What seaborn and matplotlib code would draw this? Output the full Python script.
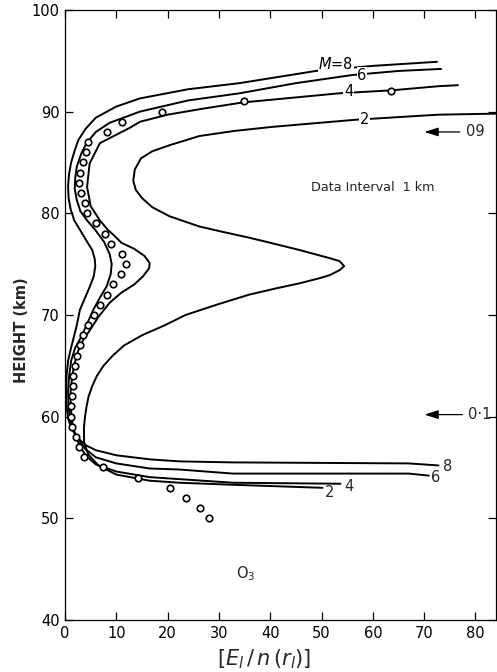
import matplotlib
matplotlib.use("Agg")
import matplotlib.pyplot as plt
import seaborn as sns
import numpy as np

# ---- data ----
m8_x = [72.8, 67.0, 32.7, 22.3, 16.5, 10.0, 6.0, 4.0, 2.5, 1.3, 0.6, 0.3, 0.2, 0.3, 0.6, 1.1, 1.6, 2.3, 2.9, 4.0, 4.85, 5.6, 5.9, 5.8, 5.3, 4.3, 3.0, 1.8, 1.1, 0.7, 0.6, 0.8, 1.2, 1.9, 2.6, 4.0, 6.0, 10.0, 14.6, 24.0, 34.0, 48.9, 60.0, 72.5]
m8_y = [55.2, 55.4, 55.5, 55.6, 55.8, 56.2, 56.7, 57.2, 57.9, 58.8, 59.8, 61.0, 62.5, 64.0, 65.5, 66.6, 67.6, 69.0, 70.5, 71.8, 72.8, 73.8, 74.8, 75.5, 76.4, 77.2, 78.3, 79.3, 80.4, 81.5, 82.7, 83.9, 85.0, 86.2, 87.2, 88.3, 89.4, 90.5, 91.3, 92.2, 92.8, 94.0, 94.5, 94.9]

m6_x = [70.9, 67.0, 32.7, 22.3, 16.5, 10.0, 6.0, 4.0, 2.8, 1.7, 1.0, 0.7, 0.6, 0.8, 1.2, 2.0, 2.9, 4.2, 5.5, 6.9, 8.1, 8.9, 9.1, 8.7, 7.6, 6.0, 4.3, 3.0, 2.3, 1.9, 2.0, 2.3, 3.2, 4.2, 6.0, 8.7, 14.6, 24.0, 34.0, 45.0, 56.0, 65.0, 73.3]
m6_y = [54.2, 54.4, 54.4, 54.8, 54.9, 55.4, 56.0, 56.8, 57.6, 58.6, 59.7, 61.0, 62.5, 64.0, 65.5, 66.8, 67.6, 69.0, 70.5, 71.8, 72.8, 74.0, 75.0, 76.0, 77.2, 78.3, 79.3, 80.2, 81.3, 82.4, 83.5, 84.6, 85.9, 86.9, 88.0, 88.9, 90.0, 91.1, 91.8, 92.8, 93.6, 94.0, 94.2]

m4_x = [53.7, 32.7, 16.5, 10.0, 6.0, 4.0, 2.8, 1.9, 1.4, 1.1, 1.1, 1.4, 1.9, 2.6, 3.6, 4.85, 6.5, 8.7, 11.0, 13.5, 15.2, 16.4, 16.5, 15.5, 13.5, 11.0, 9.6, 8.3, 6.8, 5.0, 4.3, 4.8, 6.8, 12.6, 14.6, 20.0, 27.0, 34.6, 53.4, 63.8, 72.8, 76.6]
m4_y = [53.4, 53.5, 54.05, 54.6, 55.3, 56.2, 57.2, 58.3, 59.5, 61.0, 62.5, 64.0, 65.3, 66.5, 67.6, 68.5, 69.8, 71.2, 72.2, 73.0, 73.8, 74.6, 75.1, 75.8, 76.5, 77.1, 77.8, 78.4, 79.3, 80.7, 82.6, 84.9, 86.9, 88.4, 89.0, 89.7, 90.3, 90.9, 91.8, 92.1, 92.5, 92.6]

m2_x = [50.2, 32.7, 22.3, 16.5, 10.0, 6.5, 4.5, 3.7, 3.7, 3.9, 4.2, 4.6, 5.3, 6.2, 7.5, 9.3, 11.5, 15.0, 19.5, 23.5, 29.5, 35.9, 41.0, 45.6, 49.5, 51.5, 53.5, 54.4, 53.5, 51.5, 45.6, 40.0, 35.9, 30.5, 26.2, 20.4, 17.0, 15.0, 13.8, 13.3, 13.6, 14.8, 17.0, 20.4, 26.2, 33.0, 40.4, 56.6, 72.8, 84.0]
m2_y = [53.0, 53.3, 53.5, 53.7, 54.3, 55.2, 56.3, 57.5, 59.0, 60.0, 61.0, 62.0, 63.0, 64.0, 65.0, 66.0, 67.0, 68.0, 69.0, 70.0, 71.0, 72.0, 72.6, 73.1, 73.6, 73.9, 74.4, 74.8, 75.3, 75.6, 76.4, 77.1, 77.6, 78.2, 78.7, 79.7, 80.6, 81.5, 82.3, 83.2, 84.3, 85.4, 86.1, 86.7, 87.6, 88.1, 88.5, 89.2, 89.7, 89.8]

obs_y = [50, 51, 52, 53, 54, 55, 56, 57, 58, 59, 60, 61, 62, 63, 64, 65, 66, 67, 68, 69, 70, 71,
         72, 73, 74, 75, 76, 77, 78, 79, 80, 81, 82, 83, 84, 85, 86, 87, 88, 89, 90, 91, 92]
obs_x = [28.0, 26.3, 23.5, 20.4, 14.3, 7.4, 3.7, 2.8, 2.1, 1.3, 1.2, 1.2, 1.3, 1.5, 1.6, 1.9, 2.3, 2.9, 3.5, 4.4, 5.7, 6.8,
         8.2, 9.3, 10.9, 11.8, 11.2, 8.9, 7.8, 6.0, 4.3, 3.9, 3.1, 2.8, 3.0, 3.6, 4.1, 4.5, 8.2, 11.2, 18.9, 34.8, 63.6]

x_ticks = [0, 10, 20, 30, 40, 50, 60, 70, 80]
y_ticks = [40, 50, 60, 70, 80, 90, 100]

# ---- figure ----
sns.set_theme(style="ticks")
plt.rcParams['font.family'] = ['DejaVu Sans']
plt.rcParams['mathtext.fontset'] = 'dejavusans'

fig = plt.figure(figsize=(4.97, 6.72), dpi=100)
ax = fig.add_axes([0.1308, 0.0774, 0.8672, 0.9078])

curves = [(m8_x, m8_y), (m6_x, m6_y), (m4_x, m4_y), (m2_x, m2_y)]
for cx, cy in curves:
    sns.lineplot(x=cx, y=cy, sort=False, estimator=None, color="black", linewidth=1.4, ax=ax)

sns.scatterplot(x=obs_x, y=obs_y, marker="o", s=22, facecolor="white",
                edgecolor="black", linewidth=1.2, ax=ax, zorder=5)

ax.set_xlim(0, 84)
ax.set_ylim(40, 100)
ax.set_xticks(x_ticks)
ax.set_yticks(y_ticks)
ax.tick_params(direction="in", length=6, width=0.9, labelsize=10.5, colors="black",
               top=True, right=True, pad=4)
for s in ax.spines.values():
    s.set_linewidth(0.9)
    s.set_color("black")

ax.set_ylabel("HEIGHT (km)", fontsize=10.5, fontweight="bold")
ax.yaxis.set_label_coords(-0.083, 0.475)
ax.set_xlabel(r"$\left[E_l\,/\,n\,(r_l)\right]$", fontsize=15)
ax.xaxis.set_label_coords(0.463, -0.045)

box = dict(facecolor="white", edgecolor="none", pad=0.5)
tkw = dict(fontsize=10.5, color="black", va="center", ha="center")
ax.text(52.8, 94.65, r"$M$=8", bbox=box, zorder=6, **tkw)
ax.text(57.9, 93.6, "6", bbox=box, zorder=6, **tkw)
ax.text(55.3, 92.0, "4", bbox=box, zorder=6, **tkw)
ax.text(58.3, 89.2, "2", bbox=box, zorder=6, **tkw)

ax.text(73.6, 55.1, "8", fontsize=10.5, ha="left", va="center")
ax.text(71.3, 54.0, "6", fontsize=10.5, ha="left", va="center")
ax.text(54.5, 53.1, "4", fontsize=10.5, ha="left", va="center")
ax.text(50.6, 52.5, "2", fontsize=10.5, ha="left", va="center")

ax.annotate("", xy=(69.5, 88.0), xytext=(77.5, 88.0),
            arrowprops=dict(arrowstyle="-|>,head_length=0.7,head_width=0.22", lw=0.9, color="black"))
ax.text(78.2, 88.0, "09", fontsize=10.5, ha="left", va="center")
ax.annotate("", xy=(69.5, 60.2), xytext=(78.0, 60.2),
            arrowprops=dict(arrowstyle="-|>,head_length=0.7,head_width=0.22", lw=0.9, color="black"))
ax.text(78.5, 60.2, "0·1", fontsize=10.5, ha="left", va="center")

ax.text(60.0, 82.5, "Data Interval  1 km", fontsize=9.2, ha="center", va="center")
ax.text(35.3, 44.6, r"O$_3$", fontsize=10.5, ha="center", va="center")

fig.savefig("out.png", dpi=100)
